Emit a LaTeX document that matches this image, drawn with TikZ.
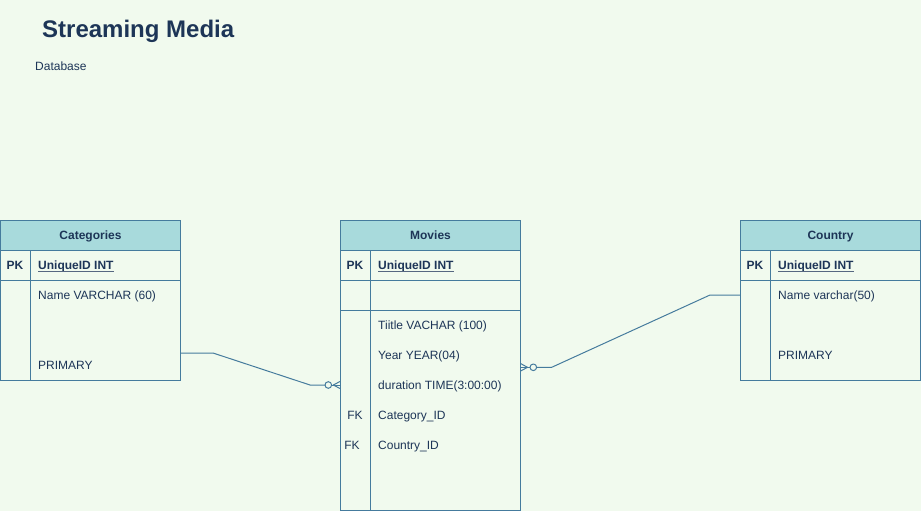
\documentclass[tikz,border=0pt]{standalone}
\usepackage{fontspec}
\setmainfont{Liberation Sans}
\definecolor{bgc}{HTML}{F1FAEE}
\definecolor{hdc}{HTML}{A8DADC}
\definecolor{stc}{HTML}{457B9D}
\definecolor{txc}{HTML}{1D3557}
\tikzset{
  tbox/.style={draw=stc, line width=1pt, inner sep=0pt, minimum width=180pt},
  thead/.style={tbox, fill=hdc, minimum height=30pt},
  htxt/.style={anchor=base, inner sep=0pt, text=txc, font=\fontsize{12}{14}\selectfont\bfseries},
  tbody/.style={tbox, fill=bgc},
  rowtxt/.style={anchor=base west, inner sep=0pt, text=txc, font=\fontsize{12}{14}\selectfont},
  idtxt/.style={rowtxt, font=\fontsize{12}{14}\selectfont\bfseries},
  keytxt/.style={anchor=base, inner sep=0pt, text=txc, font=\fontsize{12}{14}\selectfont\bfseries},
  fktxt/.style={anchor=base, inner sep=0pt, text=txc, font=\fontsize{12}{14}\selectfont},
  uline/.style={draw=txc!75, line width=0.9pt},
  tline/.style={draw=stc, line width=1pt},
  conn/.style={draw=stc, line width=1pt, line join=round}
}
\begin{document}
\begin{tikzpicture}[x=1pt,y=-1pt]
\useasboundingbox[fill=bgc] (0,0) rectangle (921,511);
% title
\node[anchor=base west, inner sep=0pt, text=txc, font=\fontsize{24}{28}\selectfont\bfseries] (title) at (42,37.3) {Streaming Media};
\node[anchor=base west, inner sep=0pt, text=txc, font=\fontsize{12}{14}\selectfont] (sub) at (35,70.6) {Database};

% Categories
\node[tbody, minimum height=130pt] (catb) at (90.5,315) {};
\node[thead] (cath) at (90.5,235) {};
\node[htxt] (catht) at (90.5,239.5) {Categories};
\draw[tline] (catb.west |- 0,280) -- (catb.east |- 0,280);
\draw[tline] (30.5,250) -- (30.5,380);
\node[keytxt] (catpk) at (15,269.3) {PK};
\node[idtxt] (catid) at (38,269.3) {UniqueID INT};
\draw[uline] ([yshift=-1.9pt]catid.base west) -- ([yshift=-1.9pt]catid.base east);
\node[rowtxt] (catname) at (38,299.3) {Name VARCHAR (60)};
\node[rowtxt] (catprim) at (38,369.3) {PRIMARY};

% Movies
\node[tbody, minimum height=260pt] (movb) at (430.5,380) {};
\node[thead] (movh) at (430.5,235) {};
\node[htxt] (movht) at (430.5,239.5) {Movies};
\draw[tline] (movb.west |- 0,280) -- (movb.east |- 0,280);
\draw[tline] (movb.west |- 0,310) -- (movb.east |- 0,310);
\draw[tline] (370.5,250) -- (370.5,510);
\node[keytxt] (movpk) at (355,269.3) {PK};
\node[idtxt] (movid) at (378,269.3) {UniqueID INT};
\draw[uline] ([yshift=-1.9pt]movid.base west) -- ([yshift=-1.9pt]movid.base east);
\node[rowtxt] (movt) at (378,329.3) {Tiitle VACHAR (100)};
\node[rowtxt] (movy) at (378,359.3) {Year YEAR(04)};
\node[rowtxt] (movd) at (378,389.3) {duration TIME(3:00:00)};
\node[fktxt] (movfk1) at (355,419.3) {FK};
\node[rowtxt] (movc) at (378,419.3) {Category\_ID};
\node[fktxt] (movfk2) at (352,449.3) {FK};
\node[rowtxt] (movco) at (378,449.3) {Country\_ID};

% Country
\node[tbody, minimum height=130pt] (cnb) at (830.5,315) {};
\node[thead] (cnh) at (830.5,235) {};
\node[htxt] (cnht) at (830.5,239.5) {Country};
\draw[tline] (cnb.west |- 0,280) -- (cnb.east |- 0,280);
\draw[tline] (770.5,250) -- (770.5,380);
\node[keytxt] (cnpk) at (755,269.3) {PK};
\node[idtxt] (cnid) at (778,269.3) {UniqueID INT};
\draw[uline] ([yshift=-1.9pt]cnid.base west) -- ([yshift=-1.9pt]cnid.base east);
\node[rowtxt] (cnname) at (778,299.3) {Name varchar(50)};
\node[rowtxt] (cnprim) at (778,359.3) {PRIMARY};

% connector Categories -> Movies
\coordinate (c1s) at (catb.east |- 0,353);
\coordinate (c1e) at (movb.west |- 0,385);
\draw[conn] (c1s) -- (213,353) -- (310,385) -- (325,385);
\draw[conn] (328.3,385) circle (3.3);
\draw[conn] (331.6,385) -- (c1e);
\draw[conn] (340,381.5) -- (333.3,385) -- (340,388.5);

% connector Country -> Movies
\coordinate (c2s) at (cnb.west |- 0,295);
\coordinate (c2e) at (movb.east |- 0,367.3);
\draw[conn] (c2s) -- (710,295) -- (551.7,367.3) -- (536.6,367.3);
\draw[conn] (533.3,367.3) circle (3.3);
\draw[conn] (530,367.3) -- (c2e);
\draw[conn] (520.5,363.5) -- (527.5,367.3) -- (520.5,371.1);
\end{tikzpicture}
\end{document}
